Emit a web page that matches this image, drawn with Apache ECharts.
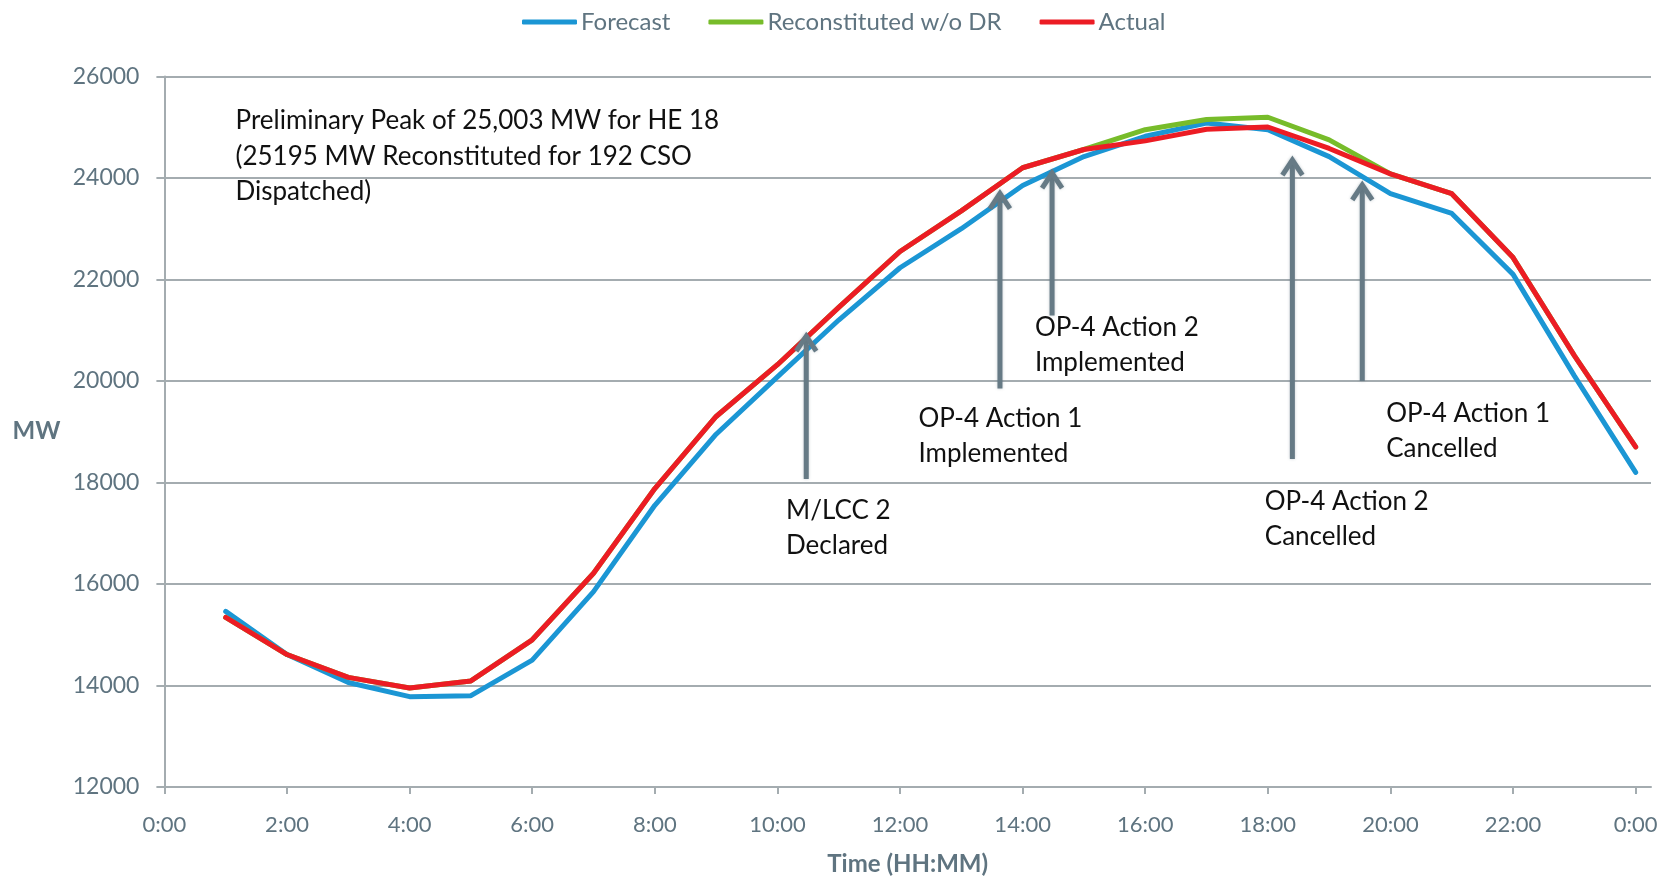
<!DOCTYPE html>
<html>
<head>
<meta charset="utf-8">
<title>System Load – Forecast vs Actual</title>
<script src="https://cdn.jsdelivr.net/npm/echarts@6/dist/echarts.min.js"></script>
<style>
  html, body { margin: 0; padding: 0; background: #ffffff; }
  #chart { width: 1663px; height: 881px; }
</style>
</head>
<body>
<div id="chart"></div>
<script>
// Hour-ending of each load value (HE 1 .. HE 24)
const hourEnding = [1, 2, 3, 4, 5, 6, 7, 8, 9, 10, 11, 12, 13, 14, 15, 16, 17, 18, 19, 20, 21, 22, 23, 24];

// Hourly load, MW
const forecastMW = [15460, 14610, 14060, 13780, 13800, 14500, 15850, 17550, 18950, 20080, 21200, 22230,
                    23000, 23850, 24420, 24820, 25080, 24950, 24420, 23690, 23300, 22100, 20100, 18200];
const reconstitutedMW = [15340, 14610, 14160, 13950, 14090, 14900, 16210, 17880, 19300, 20320, 21450, 22550,
                         23350, 24200, 24560, 24950, 25150, 25195, 24750, 24080, 23690, 22430, 20500, 18700];
const actualMW = [15340, 14610, 14160, 13950, 14090, 14900, 16210, 17880, 19300, 20320, 21450, 22550,
                  23350, 24200, 24560, 24730, 24960, 25003, 24580, 24080, 23690, 22430, 20500, 18700];

// Axis ticks
const xTickHours = [0, 2, 4, 6, 8, 10, 12, 14, 16, 18, 20, 22, 24];
const yTicksMW = [12000, 14000, 16000, 18000, 20000, 22000, 24000, 26000];

// Operator actions: [hour, arrow base MW, arrow tip MW]
const eventArrows = [
  [10.47, 18070, 20960],
  [13.63, 19850, 23770],
  [14.48, 21290, 24175],
  [18.40, 18460, 24430],
  [19.54, 20000, 23940]
];

// Text notes: [hour, MW at top of text block, text]
const eventNotes = [
  [1.16, 25470, 'Preliminary Peak of 25,003 MW for HE 18\n(25195 MW Reconstituted for 192 CSO\nDispatched)'],
  [10.14, 17800, 'M/LCC 2\nDeclared'],
  [12.30, 19610, 'OP-4 Action 1\nImplemented'],
  [14.20, 21405, 'OP-4 Action 2\nImplemented'],
  [17.95, 17975, 'OP-4 Action 2\nCancelled'],
  [19.93, 19710, 'OP-4 Action 1\nCancelled']
];

const FONT = 'Lato, "Open Sans", sans-serif';
const AXIS_GREY = '#a4acb0';
const LABEL_SLATE = '#5f7480';
const ARROW_SLATE = '#667a85';

const pairs = vals => hourEnding.map((h, i) => [h, vals[i]]);
const fmtHour = v => (Math.round(v) % 24) + ':00';

const chart = echarts.init(document.getElementById('chart'), null, { renderer: 'canvas' });

const lineSeries = (name, vals, color) => ({
  name: name,
  type: 'line',
  data: pairs(vals),
  showSymbol: false,
  symbol: 'none',
  lineStyle: { width: 5, color: color, cap: 'round', join: 'round' },
  itemStyle: { color: color },
  emphasis: { disabled: true },
  z: 3
});

const option = {
  animation: false,
  backgroundColor: '#ffffff',
  textStyle: { fontFamily: FONT },
  legend: {
    data: ['Forecast', 'Reconstituted w/o DR', 'Actual'],
    left: 517,
    top: 5,
    icon: 'roundRect',
    itemWidth: 55,
    itemHeight: 5,
    itemGap: 38,
    textStyle: { fontFamily: FONT, fontSize: 24, color: LABEL_SLATE, padding: [0, 0, 0, -1] }
  },
  grid: { left: 164.4, right: 12, top: 76.4, bottom: 86.6, containLabel: false },
  xAxis: {
    type: 'value',
    min: 0,
    max: 24.25,
    interval: 2,
    name: 'Time (HH:MM)',
    nameLocation: 'middle',
    nameGap: 65,
    nameTextStyle: { fontFamily: FONT, fontSize: 24, fontWeight: 'bold', color: LABEL_SLATE },
    axisLine: { show: true, onZero: false, lineStyle: { color: AXIS_GREY, width: 2 } },
    axisTick: { show: true, length: 7, customValues: xTickHours, lineStyle: { color: AXIS_GREY, width: 2 } },
    axisLabel: {
      customValues: xTickHours,
      formatter: fmtHour,
      margin: 27,
      fontFamily: FONT, fontSize: 22, color: LABEL_SLATE
    },
    splitLine: { show: false }
  },
  yAxis: {
    type: 'value',
    min: 12000,
    max: 26000,
    interval: 2000,
    name: 'MW',
    nameLocation: 'middle',
    nameRotate: 0,
    nameGap: 104,
    nameTextStyle: { fontFamily: FONT, fontSize: 24, fontWeight: 'bold', color: LABEL_SLATE },
    axisLine: { show: true, lineStyle: { color: AXIS_GREY, width: 2 } },
    axisTick: { show: true, length: 8, lineStyle: { color: AXIS_GREY, width: 2 } },
    axisLabel: {
      customValues: yTicksMW,
      formatter: v => String(v),
      margin: 25,
      fontFamily: FONT, fontSize: 23, color: LABEL_SLATE
    },
    splitLine: { show: true, lineStyle: { color: AXIS_GREY, width: 2 } }
  },
  series: [
    lineSeries('Forecast', forecastMW, '#1b96d4'),
    lineSeries('Reconstituted w/o DR', reconstitutedMW, '#77bc2a'),
    lineSeries('Actual', actualMW, '#ec1c24'),
    {
      // vertical arrows marking operator actions
      name: 'actions',
      type: 'custom',
      data: eventArrows,
      encode: { x: 0, y: [1, 2] },
      z: 5,
      silent: true,
      renderItem: (params, api) => {
        const base = api.coord([api.value(0), api.value(1)]);
        const tip = api.coord([api.value(0), api.value(2)]);
        const x = tip[0];
        const style = {
          stroke: ARROW_SLATE, lineWidth: 5, fill: null,
          shadowBlur: 3, shadowColor: 'rgba(90,110,120,0.35)'
        };
        return {
          type: 'group',
          children: [
            { type: 'line', shape: { x1: x, y1: base[1], x2: x, y2: tip[1] + 4 }, style: Object.assign({ lineCap: 'butt' }, style) },
            { type: 'polyline', shape: { points: [[x - 10, tip[1] + 19], [x, tip[1] + 4], [x + 10, tip[1] + 19]] },
              style: Object.assign({ lineJoin: 'miter', lineCap: 'butt' }, style) }
          ]
        };
      }
    },
    {
      // explanatory notes
      name: 'notes',
      type: 'custom',
      data: eventNotes,
      encode: { x: 0, y: 1 },
      z: 6,
      silent: true,
      renderItem: (params, api) => {
        const p = api.coord([api.value(0), api.value(1)]);
        return {
          type: 'text',
          x: p[0],
          y: p[1],
          style: {
            text: eventNotes[params.dataIndex][2],
            fontFamily: FONT,
            fontSize: 26,
            lineHeight: 35.5,
            fill: '#111111',
            align: 'left',
            verticalAlign: 'top'
          }
        };
      }
    }
  ]
};

chart.setOption(option);
</script>
</body>
</html>
